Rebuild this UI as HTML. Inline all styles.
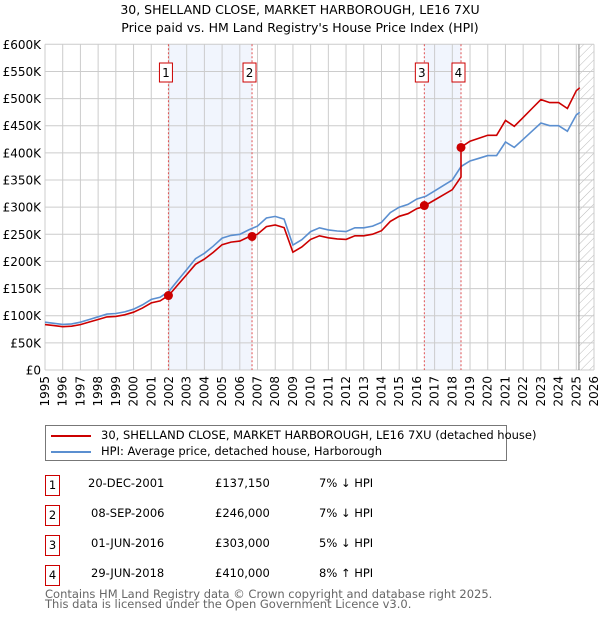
<!DOCTYPE html>
<html><head><meta charset="utf-8">
<style>
body{margin:0;background:#fff;font-family:"DejaVu Sans","Liberation Sans",sans-serif;}
#wrap{position:relative;width:600px;height:620px;overflow:hidden;}
svg text{font-family:"DejaVu Sans","Liberation Sans",sans-serif;}
span,div{white-space:nowrap;}
</style></head>
<body>
<div id="wrap">
<svg id="svg" width="600" height="620"></svg>
</div>
<script>
const hpiYears=[1995,1995.5,1996,1996.5,1997,1997.5,1998,1998.5,1999,1999.5,2000,2000.5,2001,2001.5,2002,2002.5,2003,2003.5,2004,2004.5,2005,2005.5,2006,2006.5,2007,2007.5,2008,2008.5,2009,2009.5,2010,2010.5,2011,2011.5,2012,2012.5,2013,2013.5,2014,2014.5,2015,2015.5,2016,2016.5,2017,2017.5,2018,2018.5,2019,2019.5,2020,2020.5,2021,2021.5,2022,2022.5,2023,2023.5,2024,2024.5,2025,2025.2];
const hpiValues=[88,86,84,85,88,93,98,103,104,107,112,120,130,134,145,165,185,205,215,228,243,248,250,258,265,280,283,278,230,240,255,262,258,256,255,262,262,265,272,290,300,305,315,320,330,340,350,375,385,390,395,395,420,410,425,440,455,450,450,440,470,475];
const saleDates=[2001.97,2006.69,2016.42,2018.49];
const salePrices=[137150,246000,303000,410000];
const saleLabels=["1","2","3","4"];
const yTicks=[0,50,100,150,200,250,300,350,400,450,500,550,600];
const xTicks=[1995,1996,1997,1998,1999,2000,2001,2002,2003,2004,2005,2006,2007,2008,2009,2010,2011,2012,2013,2014,2015,2016,2017,2018,2019,2020,2021,2022,2023,2024,2025,2026];

const NS="http://www.w3.org/2000/svg";
const svg=document.getElementById('svg');
const L=45,R=594,T=44.3,B=370;
const x=t=>L+(t-1995)/(2026-1995)*(R-L);
const y=v=>B-v/600*(B-T);
function mk(tag,at,parent){const e=document.createElementNS(NS,tag);for(const k in at)e.setAttribute(k,at[k]);(parent||svg).appendChild(e);return e;}
function hpiAt(t){for(let i=0;i<hpiYears.length-1;i++){if(t<=hpiYears[i+1]){const f=(t-hpiYears[i])/(hpiYears[i+1]-hpiYears[i]);return hpiValues[i]+f*(hpiValues[i+1]-hpiValues[i]);}}return hpiValues[hpiValues.length-1];}

let t1=mk('text',{x:300,y:14,'text-anchor':'middle','font-size':12.5,fill:'#000'});t1.textContent='30, SHELLAND CLOSE, MARKET HARBOROUGH, LE16 7XU';

let t2=mk('text',{x:300,y:32,'text-anchor':'middle','font-size':12.5,fill:'#000'});t2.textContent="Price paid vs. HM Land Registry's House Price Index (HPI)";


for(let i=0;i<4;i+=2){const r=mk('rect',{x:x(saleDates[i]),y:T,width:x(saleDates[i+1])-x(saleDates[i]),height:B-T,fill:'#eef3fc',opacity:0.8});
}
const defs=mk('defs',{});const pat=mk('pattern',{id:'hatch',width:6,height:6,patternUnits:'userSpaceOnUse',patternTransform:'rotate(45)'},defs);
mk('line',{x1:0,y1:0,x2:0,y2:6,stroke:'#bbb','stroke-width':1},pat);
const hx=x(2025.15);
const hr=mk('rect',{x:hx,y:T,width:R-hx,height:B-T,fill:'url(#hatch)'});

yTicks.forEach(v=>{const g=mk('line',{x1:L,x2:R,y1:y(v),y2:y(v),stroke:'#cccccc','stroke-width':1});
const tx=mk('text',{x:L-4,y:y(v)+4.5,'text-anchor':'end','font-size':12,fill:'#000'});tx.textContent=v===0?'£0':'£'+v+'K';});
xTicks.forEach(yr=>{const g=mk('line',{x1:x(yr),x2:x(yr),y1:T,y2:B,stroke:'#cccccc','stroke-width':1});
const tx=mk('text',{x:0,y:0,'text-anchor':'end','font-size':12,fill:'#000',transform:`translate(${x(yr)+4},${B+6}) rotate(-90)`});tx.textContent=yr;});
const nl=mk('line',{x1:hx,x2:hx,y1:T,y2:B,stroke:'#888','stroke-width':1});

saleDates.forEach((d,i)=>{const l=mk('line',{x1:x(d),x2:x(d),y1:T,y2:B,stroke:'#e05050','stroke-width':1,'stroke-dasharray':'2,2'});
const bx=x(d)-9;const b=mk('rect',{x:bx,y:63,width:13,height:19,fill:'#fff',stroke:'#cc0000','stroke-width':1});
const tx=mk('text',{x:bx+6.5,y:77,'text-anchor':'middle','font-size':12});tx.textContent=saleLabels[i];});

let bp='';hpiYears.forEach((t,i)=>{bp+=(i?'L':'M')+x(t).toFixed(1)+','+y(hpiValues[i]).toFixed(1);});
const bl=mk('path',{d:bp,fill:'none',stroke:'#5b8fd0','stroke-width':1.6});
function factorAt(t){let k=0;for(let i=0;i<saleDates.length;i++)if(t>=saleDates[i])k=i;return salePrices[k]/1000/hpiAt(saleDates[k]);}
const pts=[...hpiYears,...saleDates].sort((a,b)=>a-b);
let rp='';let first=true;pts.forEach(t=>{const si=saleDates.indexOf(t);if(si>0){const prev=salePrices[si-1]/1000/hpiAt(saleDates[si-1]);rp+='L'+x(t).toFixed(1)+','+y(hpiAt(t)*prev).toFixed(1);}
rp+=(first?'M':'L')+x(t).toFixed(1)+','+y(hpiAt(t)*factorAt(t)).toFixed(1);first=false;});
const rl=mk('path',{d:rp,fill:'none',stroke:'#cc0000','stroke-width':1.6});
saleDates.forEach((d,i)=>{const c=mk('circle',{cx:x(d),cy:y(salePrices[i]/1000),r:4.5,fill:'#cc0000'});});
</script>

<div style="position:absolute;left:45px;top:425px;width:462px;height:36px;border:1px solid #777;box-sizing:border-box;font-size:11.5px;">
 <div style="position:absolute;left:5px;top:9px;width:40px;height:2px;background:#cc0000"></div>
 <div style="position:absolute;left:55px;top:2px">30, SHELLAND CLOSE, MARKET HARBOROUGH, LE16 7XU (detached house)</div>
 <div style="position:absolute;left:5px;top:25px;width:40px;height:2px;background:#5b8fd0"></div>
 <div style="position:absolute;left:55px;top:18px">HPI: Average price, detached house, Harborough</div>
</div>
<div style="position:absolute;left:0;top:0;font-size:11.5px;">
 <div><span style="position:absolute;left:45px;top:475px;width:13px;height:19px;border:1px solid #cc0000;text-align:center;line-height:19px">1</span><span style="position:absolute;left:88px;top:476px">20-DEC-2001</span><span style="position:absolute;left:215px;top:476px">£137,150</span><span style="position:absolute;left:319px;top:476px">7% ↓ HPI</span></div>
 <div><span style="position:absolute;left:45px;top:505px;width:13px;height:19px;border:1px solid #cc0000;text-align:center;line-height:19px">2</span><span style="position:absolute;left:91px;top:506px">08-SEP-2006</span><span style="position:absolute;left:215px;top:506px">£246,000</span><span style="position:absolute;left:319px;top:506px">7% ↓ HPI</span></div>
 <div><span style="position:absolute;left:45px;top:535px;width:13px;height:19px;border:1px solid #cc0000;text-align:center;line-height:19px">3</span><span style="position:absolute;left:91px;top:536px">01-JUN-2016</span><span style="position:absolute;left:215px;top:536px">£303,000</span><span style="position:absolute;left:319px;top:536px">5% ↓ HPI</span></div>
 <div><span style="position:absolute;left:45px;top:565px;width:13px;height:19px;border:1px solid #cc0000;text-align:center;line-height:19px">4</span><span style="position:absolute;left:91px;top:566px">29-JUN-2018</span><span style="position:absolute;left:215px;top:566px">£410,000</span><span style="position:absolute;left:319px;top:566px">8% ↑ HPI</span></div>
</div>
<div style="position:absolute;left:45px;top:589px;font-size:11.5px;color:#666;line-height:10px">Contains HM Land Registry data © Crown copyright and database right 2025.<br>This data is licensed under the Open Government Licence v3.0.</div>
</body></html>
